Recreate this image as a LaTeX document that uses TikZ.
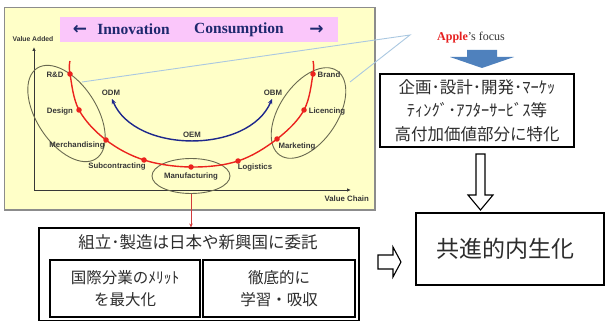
\documentclass[tikz,border=0pt]{standalone}
\usepackage{fontspec}
\setmainfont{Liberation Serif}
\newfontfamily\lsans{Liberation Sans}
\newfontfamily\dejavu{DejaVu Sans}
\newfontfamily\jpfont{Noto Sans CJK JP}
\usetikzlibrary{arrows.meta,shapes.geometric}
\definecolor{panel}{RGB}{255,255,200}
\definecolor{panelborder}{RGB}{140,140,140}
\definecolor{banner}{RGB}{250,198,250}
\definecolor{bannertext}{RGB}{30,40,110}
\definecolor{curvered}{RGB}{235,35,30}
\definecolor{curveblue}{RGB}{30,40,140}
\definecolor{ellcol}{RGB}{105,105,80}
\definecolor{labelcol}{RGB}{55,55,55}
\definecolor{callout}{RGB}{170,200,225}
\definecolor{applered}{RGB}{230,30,30}
\definecolor{focusblue}{RGB}{79,129,189}
\definecolor{jptext}{RGB}{45,45,45}
\definecolor{linkred}{RGB}{210,60,60}
\tikzset{
  lbl/.style={font=\lsans\bfseries\fontsize{7.8}{9}\selectfont, text=labelcol, inner sep=0pt},
  dotnode/.style={circle, fill=curvered, inner sep=0pt, minimum size=5.5pt},
  ellnode/.style={ellipse, draw=ellcol, line width=0.9pt, inner sep=0pt},
  bannerword/.style={font=\bfseries\fontsize{15.5}{17}\selectfont, text=bannertext, inner sep=0pt},
  bannerarrow/.style={font=\dejavu\bfseries\fontsize{17}{19}\selectfont, text=bannertext, inner sep=0pt},
  jpbox/.style={draw=black, line width=1.6pt, align=center, text=jptext, inner sep=0pt},
  blockarrow/.style={draw=black, line width=1.1pt, fill=white, line join=miter},
}
\begin{document}
\begin{tikzpicture}[x=1pt,y=-1pt]
\useasboundingbox (0,0) rectangle (606,321);
\fill[white] (0,0) rectangle (606,321);
% panel
\draw[panelborder, fill=panel, line width=1.2pt] (4.5,7.5) rectangle (375,210);
% banner
\fill[banner] (60,17) rectangle (338,42);
\node[bannerarrow] (larr) at (80,30) {←};
\node[bannerword] (innov) at (133.5,29.5) {Innovation};
\node[bannerword] (consum) at (239,29.5) {Consumption};
\node[bannerarrow] (rarr) at (316.5,30) {→};
% axes
\coordinate (origin) at (34,190);
\coordinate (ytip) at (34,47);
\coordinate (xtip) at (351,190);
\draw[labelcol, line width=0.9pt, -{Latex[length=4pt,width=3.5pt]}] (origin) -- (ytip);
\draw[labelcol, line width=0.9pt, -{Latex[length=4pt,width=3.5pt]}] (origin) -- (xtip);
\node[lbl, font=\lsans\bfseries\fontsize{6.8}{7}\selectfont] (vadd) at (33,39) {Value Added};
\node[lbl, anchor=east] (vchain) at (369,198.5) {Value Chain};
% callout lines
\coordinate (callpt) at (410,35);
\coordinate (callL) at (82,82);
\coordinate (callR) at (350,82);
\draw[callout, line width=0.9pt] (callL) -- (callpt) -- (callR);
% ellipses
\node[ellnode, minimum width=108pt, minimum height=60pt, rotate=-57] (upstream) at (66.5,113.5) {};
\node[ellnode, minimum width=102pt, minimum height=58pt, rotate=56] (downstream) at (308.5,113) {};
\node[ellnode, minimum width=78pt, minimum height=35pt] (manuf) at (191,176) {};
\node[lbl] (manuflbl) at (191,177) {Manufacturing};
% red smile curve
\draw[curvered, line width=1.4pt] plot[smooth, tension=0.6] coordinates {(70,61) (70,74) (79,110) (106,140) (144,160) (191,167) (238,161) (277,139) (304,110) (313,74) (313,61)};
\node[dotnode] (rd) at (70,74) {};
\node[dotnode] (design) at (79,110) {};
\node[dotnode] (merch) at (106,140) {};
\node[dotnode] (subc) at (144,160) {};
\node[dotnode] (mfg) at (191,167) {};
\node[dotnode] (logi) at (238,161) {};
\node[dotnode] (mkt) at (277,139) {};
\node[dotnode] (lic) at (304,110) {};
\node[dotnode] (brand) at (313,74) {};
\node[lbl] at (55,75) {R\&D};
\node[lbl] at (60,112) {Design};
\node[lbl] at (77,146) {Merchandising};
\node[lbl] at (117,167) {Subcontracting};
\node[lbl] at (255,168) {Logistics};
\node[lbl] at (297,147) {Marketing};
\node[lbl] at (327,112) {Licencing};
\node[lbl] at (329,75) {Brand};
% blue curve
\coordinate (odmtip) at (112,99);
\coordinate (obmtip) at (272,99);
\draw[curveblue, line width=1.4pt, {Stealth[length=5pt,width=4.5pt]}-{Stealth[length=5pt,width=4.5pt]}] (odmtip) .. controls (135,154) and (249,154) .. (obmtip);
\node[lbl] (odm) at (111,93) {ODM};
\node[lbl] (obm) at (273,93) {OBM};
\node[lbl] (oem) at (192,135) {OEM};
% Apple's focus
\node[inner sep=0pt, font=\fontsize{12}{14}\selectfont] (apple) at (471,38) {\textcolor{applered}{\bfseries Apple}\textcolor{labelcol}{’s focus}};
\fill[focusblue] (467,50) -- (497,50) -- (497,57) -- (514,57) -- (482,68) -- (450,57) -- (467,57) -- cycle;
% focus box
\node[jpbox, minimum width=194pt, minimum height=73pt, font=\jpfont\fontsize{16.5}{23.5}\selectfont] (focusbox) at (477,110.5) {企画･設計･開発･ﾏｰｹｯ\\ﾃｨﾝｸﾞ･ｱﾌﾀｰｻｰﾋﾞｽ等\\高付加価値部分に特化};
% down white arrow
\draw[blockarrow] (476,154) -- (485,154) -- (485,195) -- (493,195) -- (480.5,210) -- (468,195) -- (476,195) -- cycle;
% goal box
\node[jpbox, line width=1.3pt, minimum width=188pt, minimum height=72pt, font=\jpfont\fontsize{23}{26}\selectfont] (goal) at (510,249) {共進的内生化\hspace*{10pt}};
% right white arrow
\draw[blockarrow] (378,255) -- (393,255) -- (393,247) -- (401,262) -- (393,277) -- (393,269) -- (378,269) -- cycle;
% outsourcing box
\node[draw=black, line width=1.1pt, minimum width=320pt, minimum height=93pt, inner sep=0pt] (outsource) at (199,274.5) {};
\node[inner sep=0pt, text=jptext, font=\jpfont\fontsize{16.5}{18}\selectfont] (outtitle) at (198,242) {組立･製造は日本や新興国に委託};
\node[jpbox, line width=1.8pt, minimum width=150pt, minimum height=57pt, font=\jpfont\fontsize{15.5}{22}\selectfont] (merit) at (125,288.5) {国際分業のﾒﾘｯﾄ\\を最大化};
\node[jpbox, line width=1.8pt, minimum width=152pt, minimum height=57pt, font=\jpfont\fontsize{15.5}{22}\selectfont] (learn) at (279,288.5) {徹底的に\\学習・吸収};
% red link
\draw[linkred, line width=0.9pt, -{Stealth[length=4pt,width=3.5pt]}] (manuf.south) -- (manuf.south |- outsource.north);
\end{tikzpicture}
\end{document}
